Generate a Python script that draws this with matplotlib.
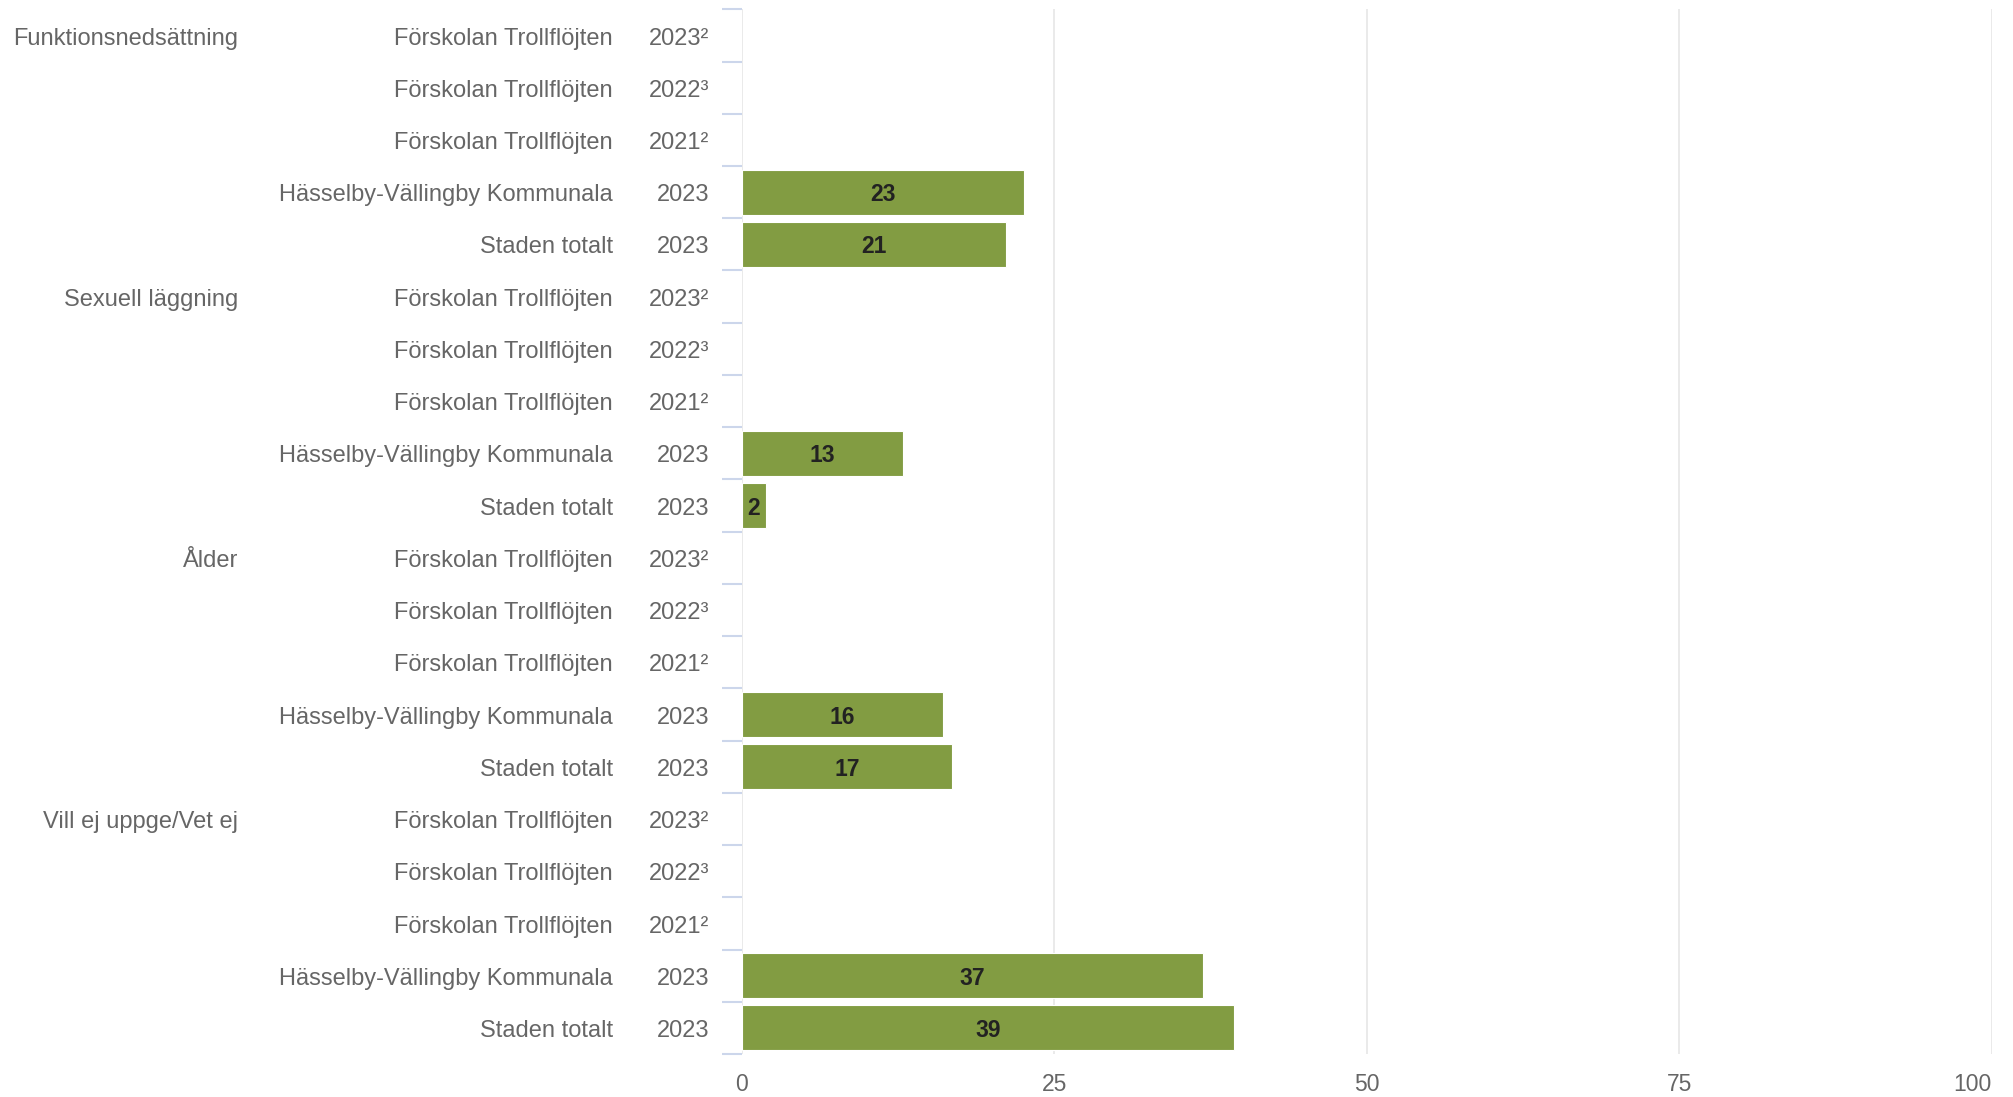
import numpy as np
import matplotlib
matplotlib.use("Agg")
import matplotlib.pyplot as plt
import matplotlib.transforms as mtransforms

plt.rcParams['font.family'] = ['Liberation Sans', 'DejaVu Sans']

gruppi = ["Funktionsnedsättning", "Sexuell läggning", "Ålder", "Vill ej uppge/Vet ej"]
nomi = ["Förskolan Trollflöjten", "Förskolan Trollflöjten", "Förskolan Trollflöjten",
        "Hässelby-Vällingby Kommunala", "Staden totalt"]
anni = ["2023²", "2022³", "2021²", "2023", "2023"]
valori = [
    [None, None, None, 22.6, 21.1],
    [None, None, None, 12.9, 1.9],
    [None, None, None, 16.1, 16.8],
    [None, None, None, 36.9, 39.4],
]
xticks = [0, 25, 50, 75, 100]

verde = "#829c42"
grigio = "#666666"
fs = 17

fig = plt.figure(figsize=(20.13, 10.97), dpi=100)
ax = fig.add_axes([742 / 2013, 1 - 1054 / 1097, (1991.5 - 742) / 2013, (1054 - 9.3) / 1097])

n = len(nomi)
totale = len(gruppi) * n
ax.set_ylim(totale - 0.5, -0.5)
ax.set_xlim(0, 100)

trans = mtransforms.blended_transform_factory(fig.transFigure, ax.transData)
for g in range(len(gruppi)):
    for k in range(n):
        y = g * n + k
        yt = y + 0.06  # le etichette stanno un po' piu' in basso
        if k == 0:
            ax.text(238 / 2013, yt, gruppi[g], transform=trans, ha="right", va="center",
                    fontsize=fs, color=grigio)
        ax.text(613 / 2013, yt, nomi[k], transform=trans, ha="right", va="center",
                fontsize=fs, color=grigio)
        ax.text(709 / 2013, yt, anni[k], transform=trans, ha="right", va="center",
                fontsize=fs, color=grigio)
        v = valori[g][k]
        if v is None:
            continue
        ax.barh(y, v, height=0.86, color=verde, edgecolor="#ffffff", linewidth=0.8, zorder=3)
        ax.text(v / 2, y + 0.05, "{:.0f}".format(v), ha="center", va="center",
                fontsize=16.5, fontweight="bold", color="#222222", zorder=4)

# griglia verticale
ax.set_xticks(xticks)
ax.set_xticklabels([str(t) for t in xticks])
ax.grid(axis="x", color="#e6e6e6", linewidth=1.2, zorder=0)
ax.tick_params(axis="x", length=0, pad=14, labelsize=16.5, labelcolor=grigio)
labs = ax.get_xticklabels()
labs[-1].set_ha("right")

# tacche tra le categorie
ax.set_yticks(np.arange(-0.5, totale, 1.0))
ax.set_yticklabels([])
ax.tick_params(axis="y", length=14.4, width=1.5, color="#ccd6eb", direction="out")

for s in ax.spines.values():
    s.set_visible(False)

fig.savefig("out.png", dpi=100)
